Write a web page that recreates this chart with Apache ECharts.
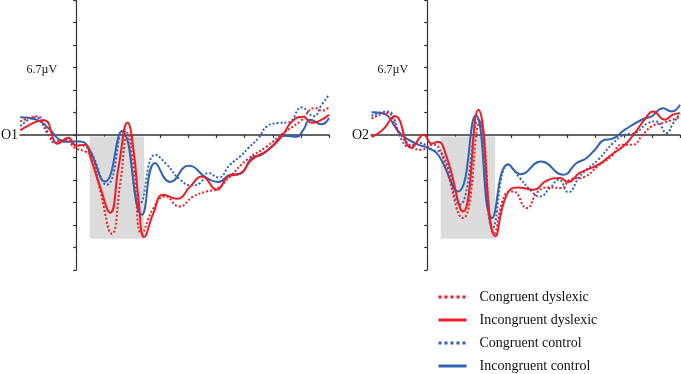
<!DOCTYPE html>
<html>
<head>
<meta charset="utf-8">
<script src="https://cdn.jsdelivr.net/npm/echarts@6/dist/echarts.min.js"></script>
<style>
html,body{margin:0;padding:0;background:#fff;}
#chart{width:681px;height:374px;}
</style>
</head>
<body>
<div id="chart"></div>
<script>
// ---- Data: [time (ms), amplitude (µV)] ----
const panelNames = ['O1', 'O2'];
const seriesNames = ['Congruent dyslexic', 'Incongruent dyslexic', 'Congruent control', 'Incongruent control'];
const xTicksMs = [100, 200, 300, 400, 500, 600, 700, 800, 900];
const yStepUV = 6.7 / 3;
const yLabelUV = 6.7;
const windowMs = [48, 242];
const windowUV = [-0.15, -10.3];

const o1CongruentDyslexic = [[-199,1.35],[-141,1.85],[-99,0.20],[-75,-0.64],[-39,-0.47],[-4,-1.29],[32,-1.63],[56,-2.15],[85,-5.43],[127,-9.80],[157,-4.74],[183,0.23],[206,-3.45],[234,-9.80],[275,-7.25],[317,-6.10],[367,-7.09],[417,-6.10],[465,-5.60],[501,-5.33],[548,-4.11],[608,-2.45],[679,-1.13],[738,0.20],[797,1.35],[851,2.68],[876,2.41],[900,2.78]];
const o1IncongruentDyslexic = [[-199,0.46],[-117,1.47],[-75,-0.77],[-68,-0.86],[-28,-0.27],[0,-1.06],[32,-0.96],[50,-2.15],[85,-5.13],[121,-7.72],[151,-3.15],[183,1.25],[204,-1.46],[222,-6.42],[242,-10.13],[275,-7.75],[310,-5.93],[359,-6.33],[406,-5.10],[447,-4.11],[501,-5.43],[542,-4.11],[584,-3.84],[625,-2.45],[684,-1.46],[732,-0.14],[768,1.35],[808,1.82],[839,1.22],[900,2.02]];
const o1CongruentControl = [[-199,0.87],[-146,1.75],[-99,0.03],[-75,-0.79],[-39,-0.64],[-4,-0.96],[32,-1.13],[109,-4.93],[167,0.46],[228,-6.75],[281,-1.96],[323,-2.95],[370,-4.44],[412,-5.00],[441,-4.77],[471,-3.77],[506,-4.21],[548,-2.95],[584,-2.12],[613,-1.29],[649,-0.30],[679,0.85],[720,1.19],[756,1.25],[803,2.74],[845,1.85],[874,3.01],[900,4.00]];
const o1IncongruentControl = [[-199,1.77],[-146,1.57],[-93,0.53],[-64,-0.37],[-36,-0.67],[14,-0.64],[44,-1.29],[103,-4.61],[163,0.36],[234,-7.91],[281,-2.78],[335,-4.67],[400,-3.05],[465,-4.27],[506,-4.67],[548,-3.94],[584,-3.84],[625,-2.28],[661,-1.96],[697,-1.13],[744,-0.07],[785,-0.17],[809,0.53],[833,1.52],[874,1.07],[900,1.69]];

const o2CongruentDyslexic = [[-198,1.62],[-144,2.18],[-103,0.36],[-56,-1.13],[-20,-1.46],[16,-0.96],[45,-1.46],[128,-8.24],[188,1.35],[239,-9.80],[277,-5.93],[306,-5.60],[354,-7.25],[395,-5.60],[437,-5.20],[478,-5.26],[508,-4.44],[561,-4.14],[609,-3.05],[656,-2.12],[692,-0.96],[733,-0.96],[763,-0.14],[799,0.85],[846,1.25],[900,1.77]];
const o2IncongruentDyslexic = [[-198,-0.22],[-158,0.53],[-115,1.85],[-56,-1.26],[-12,0.03],[16,-0.86],[38,-0.67],[69,-2.15],[128,-7.59],[182,2.51],[243,-10.05],[283,-5.93],[323,-5.20],[377,-5.43],[425,-4.54],[472,-4.27],[502,-4.67],[543,-3.77],[609,-2.95],[656,-1.96],[704,-0.96],[739,0.20],[774,1.52],[804,2.34],[846,1.52],[875,2.02],[900,2.16]];
const o2CongruentControl = [[-198,1.92],[-143,2.34],[-91,-0.47],[-68,-1.13],[-26,-0.79],[16,-1.46],[51,-1.79],[116,-6.92],[182,1.52],[234,-9.20],[288,-2.95],[330,-4.27],[366,-5.43],[401,-6.10],[437,-5.26],[469,-4.44],[502,-5.68],[543,-4.11],[567,-3.45],[609,-2.45],[662,-0.79],[704,0.03],[739,0.20],[787,1.19],[816,1.35],[852,0.20],[876,1.19],[900,2.12]];
const o2IncongruentControl = [[-198,2.26],[-162,2.18],[-91,0.03],[-32,-0.96],[4,-1.29],[39,-1.96],[110,-5.60],[173,1.97],[231,-8.24],[288,-2.90],[333,-3.89],[405,-2.62],[484,-3.94],[532,-2.78],[565,-2.33],[597,-1.46],[632,-0.47],[656,-0.40],[704,0.53],[769,1.59],[799,1.85],[840,2.66],[870,2.34],[900,3.01]];

// ---- Styling ----
const RED = '#ee1c25';
const BLUE = '#2f62b5';
const FONT = '"Liberation Serif","Times New Roman",serif';
const panelData = [
  [o1CongruentDyslexic, o1IncongruentDyslexic, o1CongruentControl, o1IncongruentControl],
  [o2CongruentDyslexic, o2IncongruentDyslexic, o2CongruentControl, o2IncongruentControl]
];
const styles = [
  {color: RED, type: 'dotted'},
  {color: RED, type: 'solid'},
  {color: BLUE, type: 'dotted'},
  {color: BLUE, type: 'solid'}
];
const drawOrder = [2, 3, 0, 1];

const yTicks = [];
for (let i = -6; i <= 6; i++) yTicks.push(i * yStepUV);

const grids = [
  {left: 20, top: 0, width: 309, height: 270, outerBoundsMode: 'none', containLabel: false},
  {left: 371, top: 0, width: 309, height: 270, outerBoundsMode: 'none', containLabel: false}
];
const xAxes = [], yAxes = [], series = [];
panelNames.forEach((pn, p) => {
  xAxes.push({
    type: 'value', gridIndex: p, min: -200, max: 900,
    name: pn, nameLocation: 'start', nameGap: 2,
    nameTextStyle: {fontFamily: FONT, fontSize: 14, color: '#111'},
    axisLine: {onZero: true, lineStyle: {color: '#333', width: 1.5}},
    axisTick: {show: true, length: 3, customValues: xTicksMs, lineStyle: {color: '#333', width: 1.2}},
    axisLabel: {show: false},
    splitLine: {show: false}
  });
  yAxes.push({
    type: 'value', gridIndex: p, min: -6 * yStepUV, max: 6 * yStepUV,
    axisLine: {onZero: true, lineStyle: {color: '#333', width: 1.2}},
    axisTick: {show: true, length: 3, customValues: yTicks, lineStyle: {color: '#333', width: 1.2}},
    axisLabel: {show: false},
    splitLine: {show: false}
  });
  series.push({
    type: 'line', xAxisIndex: p, yAxisIndex: p, data: [], silent: true,
    markArea: {silent: true, itemStyle: {color: '#dcdcdc'},
      data: [[{coord: [windowMs[0], windowUV[0]]}, {coord: [windowMs[1], windowUV[1]]}]]}
  });
  drawOrder.forEach(s => {
    series.push({
      type: 'line', name: seriesNames[s], xAxisIndex: p, yAxisIndex: p,
      data: panelData[p][s], smooth: 0.5, symbol: 'none',
      lineStyle: {color: styles[s].color, type: styles[s].type, width: 2},
      itemStyle: {color: styles[s].color},
      animation: false
    });
  });
});

const chart = echarts.init(document.getElementById('chart'), null, {renderer: 'canvas'});
chart.setOption({
  animation: false,
  backgroundColor: '#fff',
  grid: grids,
  xAxis: xAxes,
  yAxis: yAxes,
  legend: {
    data: seriesNames, orient: 'vertical', left: 437, top: 290, padding: 0,
    itemWidth: 28, itemHeight: 14, itemGap: 9,
    textStyle: {fontFamily: FONT, fontSize: 14, color: '#111', padding: [0, 0, 0, 8]},
    lineStyle: {width: 3},
    itemStyle: {opacity: 0}
  },
  series: series
});

// µV scale label next to the axis, anchored at the 6.7 µV tick of each panel
const labels = panelNames.map((pn, p) => {
  const pt = chart.convertToPixel({gridIndex: p}, [0, yLabelUV]);
  return {
    type: 'text', x: pt[0] - 19, y: pt[1] + 2,
    style: {text: yLabelUV + 'µV', fill: '#111', font: '12px ' + FONT, align: 'right', verticalAlign: 'middle'}
  };
});
chart.setOption({graphic: labels});
</script>
</body>
</html>
